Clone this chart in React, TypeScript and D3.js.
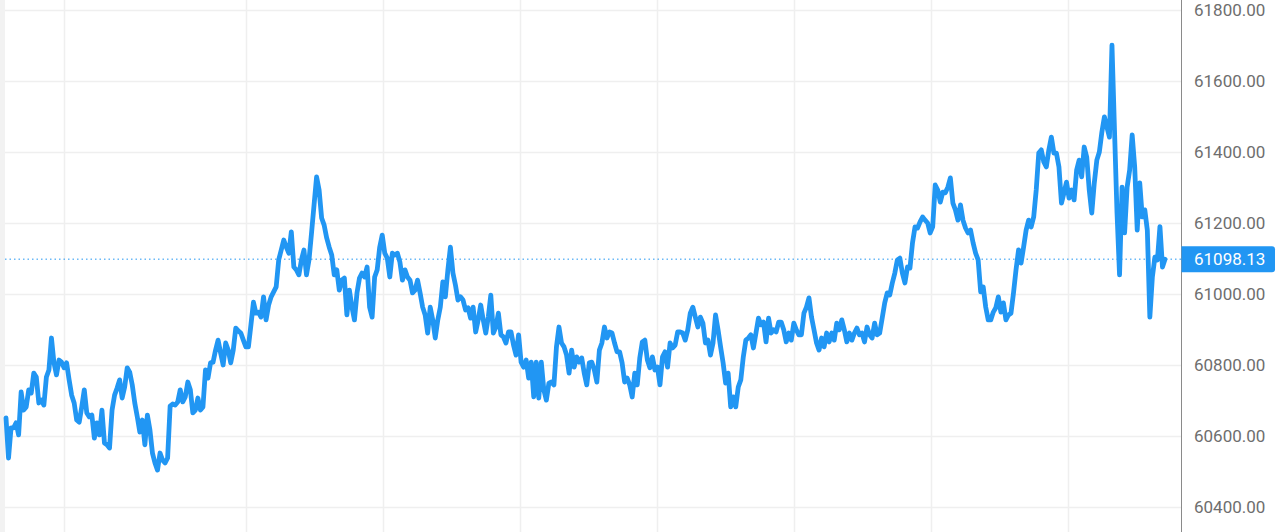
import React from "react";
import * as d3 from "d3";

const seg1 = [60651, 60538, 60623, 60623, 60637, 60603, 60724, 60673, 60682, 60730, 60721, 60777, 60766, 60693, 60701, 60687, 60766, 60786, 60876, 60806, 60772, 60814, 60808, 60792, 60806, 60758, 60715, 60693, 60645, 60639, 60682, 60730, 60665, 60654, 60659, 60594, 60637, 60603, 60673, 60580, 60575, 60566, 60673, 60715, 60735, 60758, 60707, 60738, 60792, 60780, 60744, 60693, 60654, 60611, 60645, 60575, 60659, 60617, 60552, 60524, 60504, 60552, 60532, 60524, 60538];
const seg2 = [60684, 60690, 60687, 60696, 60730, 60696, 60710, 60752, 60730, 60665, 60673, 60707, 60673, 60682, 60786, 60763, 60806, 60808, 60842, 60870, 60834, 60800, 60862, 60842, 60806, 60842, 60904, 60896, 60890, 60870, 60851, 60851, 60913, 60977, 60946, 60949, 60935, 60992, 60927, 60969, 60992, 61006, 61020, 61096, 61124, 61152, 61132, 61115, 61175, 61076, 61068, 61054, 61096, 61124, 61054, 61096, 61172, 61251, 61330, 61293, 61214, 61194, 61158, 61132, 61110, 61054, 61068, 61011, 61039, 61045];
const seg3 = [60941, 61011, 60963, 60927, 61003, 61045, 61059, 61048, 61076, 60963, 60935, 61048, 61068, 61132, 61166, 61115, 61101, 61048, 61115, 61110, 61115, 61090, 61039, 61068, 61048, 61039, 61003, 61011, 61039, 61003, 60963, 60941, 60890, 60963, 60927, 60876, 60927, 60963, 61034, 60992, 61068, 61132, 61059, 61025, 60983, 60992, 60983, 60955, 60961, 60932, 60963, 60893, 60927, 60969, 60927, 60890, 60935, 60997, 60890, 60907, 60946, 60885, 60879, 60862];
const seg4 = [60893, 60893, 60856, 60828, 60885, 60808, 60794, 60814, 60763, 60808, 60710, 60808, 60707, 60808, 60730, 60701, 60749, 60752, 60744, 60851, 60907, 60862, 60851, 60828, 60777, 60842, 60794, 60823, 60808, 60820, 60777, 60744, 60806, 60808, 60786, 60752, 60842, 60862, 60907, 60876, 60893, 60890, 60862, 60837, 60837, 60806, 60752, 60763, 60744, 60710, 60777, 60744, 60820, 60865, 60870, 60814, 60792, 60823, 60786, 60794, 60744, 60823, 60837, 60794, 60862, 60848, 60856, 60893, 60893];
const seg5 = [60890, 60870, 60899, 60946, 60963, 60935, 60907, 60935, 60918, 60862, 60870, 60828, 60862, 60941, 60899, 60851, 60806, 60749, 60777, 60682, 60710, 60682, 60738, 60758, 60823, 60870, 60876, 60885, 60848, 60890, 60932, 60913, 60921, 60865, 60932, 60890, 60899, 60893, 60921, 60921, 60899, 60865, 60890, 60870, 60918, 60899, 60885, 60885, 60946, 60963, 60989, 60935, 60899, 60862, 60842, 60876, 60851, 60890, 60865, 60890, 60870, 60918, 60899, 60927, 60899, 60865];
const seg6 = [60890, 60870, 60890, 60904, 60885, 60890, 60865, 60907, 60885, 60876, 60918, 60885, 60890, 60932, 60975, 61003, 60997, 61031, 61059, 61096, 61101, 61059, 61031, 61076, 61073, 61144, 61189, 61186, 61203, 61217, 61208, 61200, 61172, 61189, 61307, 61293, 61259, 61287, 61285, 61301, 61327, 61256, 61237, 61208, 61251, 61208, 61186, 61172, 61180, 61144, 61115, 61096, 61006, 61020, 60963, 60927, 60927, 60949, 60961, 60992, 60949, 60975, 60927, 60941, 60946, 61003];
const seg7 = [61068, 61124, 61087, 61132, 61180, 61208, 61189, 61217, 61293, 61397, 61406, 61372, 61358, 61406, 61442, 61397, 61397, 61358, 61256, 61285, 61315, 61270, 61293, 61265, 61349, 61377, 61330, 61414, 61386, 61293, 61228, 61313, 61377, 61400, 61456, 61499, 61470, 61442, 61701, 61462, 61228, 61054, 61301, 61172, 61301, 61349, 61448, 61358, 61180, 61313, 61217, 61237, 61180, 60935, 61048, 61104, 61096, 61190, 61076, 61098.13];

const prices: number[] = [...seg1, ...seg2, ...seg3, ...seg4, ...seg5, ...seg6, ...seg7];
const yTicks = [60400, 60600, 60800, 61000, 61200, 61400, 61600, 61800];
const xGridTicks = [23.0, 95.3, 149.6, 204.0, 258.4, 312.7, 367.1, 421.5];
const lastPrice = 61098.13;

const W = 1279;
const H = 532;
const plotLeft = 5;
const axisX = 1181.5;

export default function App() {
  const x = d3.scaleLinear().domain([0, 460]).range([6, 1165]);
  const xs = d3.scaleLinear().domain([0, prices.length - 1]).range([6, 1165]);
  const y = d3.scaleLinear().domain([60400, 61800]).range([507, 10]);
  const line = d3
    .line<number>()
    .x((_, i) => xs(i))
    .y((d) => y(d))
    .curve(d3.curveLinear);
  const ly = y(lastPrice);
  const font = "Roboto, 'Noto Sans', sans-serif";
  return (
    <svg
      width={W}
      height={H}
      style={{ position: "absolute", left: 0, top: 0, background: "#fff" }}
    >
      <rect x={0} y={0} width={plotLeft} height={H} fill="#f2f2f2" />
      {yTicks.map((t) => (
        <line
          key={"h" + t}
          x1={plotLeft}
          x2={axisX}
          y1={Math.round(y(t)) + 0.5}
          y2={Math.round(y(t)) + 0.5}
          stroke="#efefef"
          strokeWidth={1.5}
        />
      ))}
      {xGridTicks.map((t) => (
        <line
          key={"v" + t}
          x1={Math.round(x(t)) + 0.5}
          x2={Math.round(x(t)) + 0.5}
          y1={0}
          y2={H}
          stroke="#efefef"
          strokeWidth={1.5}
        />
      ))}
      <line
        x1={plotLeft}
        x2={axisX}
        y1={ly}
        y2={ly}
        stroke="#2196f3"
        strokeWidth={1}
        strokeDasharray="1.5,3"
      />
      <path
        d={line(prices) || ""}
        fill="none"
        stroke="#2196f3"
        strokeWidth={4.8}
        strokeLinejoin="round"
        strokeLinecap="round"
      />
      <line x1={axisX} x2={axisX} y1={0} y2={H} stroke="#8a8a8a" strokeWidth={1} />
      {yTicks.map((t) => (
        <text
          key={"t" + t}
          x={1194}
          y={y(t)}
          dy="0.36em"
          fontFamily={font}
          fontSize={17}
          fill="#6e6e6e"
        >
          {t.toFixed(2)}
        </text>
      ))}
      <path
        d={`M${axisX},${ly - 13} H1272 a3,3 0 0 1 3,3 V${ly + 10} a3,3 0 0 1 -3,3 H${axisX} Z`}
        fill="#2196f3"
      />
      <text
        x={1194}
        y={ly}
        dy="0.36em"
        fontFamily={font}
        fontSize={17}
        fill="#ffffff"
      >
        {lastPrice.toFixed(2)}
      </text>
    </svg>
  );
}
